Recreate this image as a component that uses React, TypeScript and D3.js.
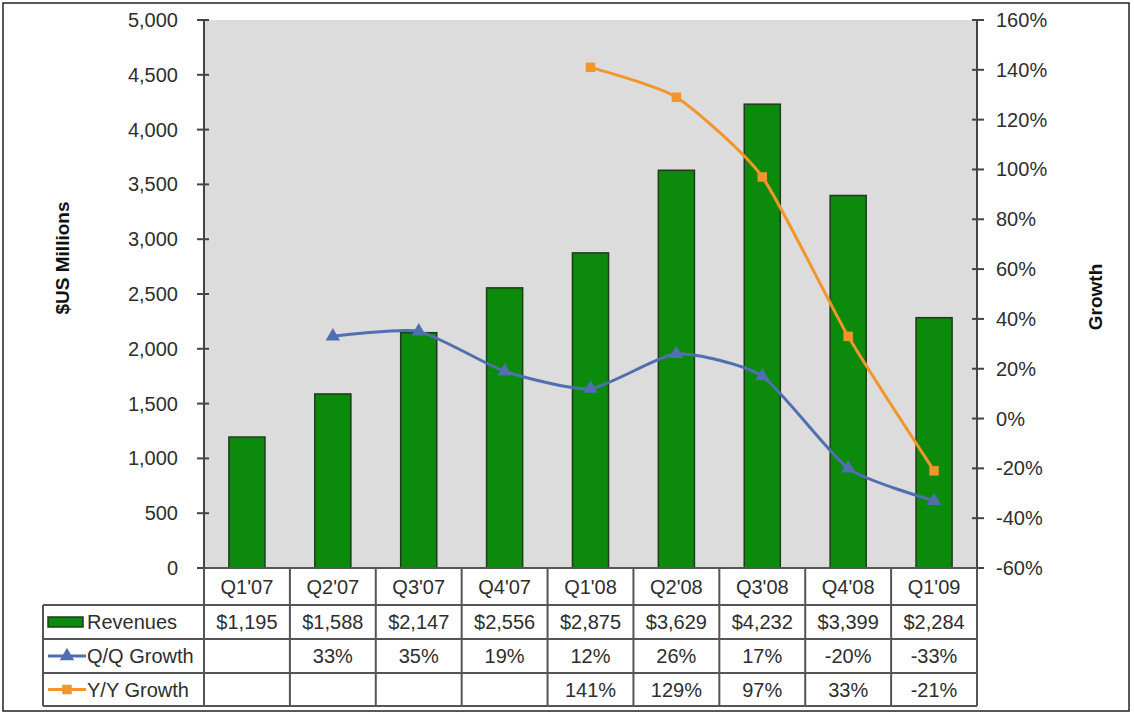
import React from "react";
import * as d3 from "d3";

const categories = ["Q1'07", "Q2'07", "Q3'07", "Q4'07", "Q1'08", "Q2'08", "Q3'08", "Q4'08", "Q1'09"];
const revenues = [1195, 1588, 2147, 2556, 2875, 3629, 4232, 3399, 2284];
const qqGrowth: (number | null)[] = [null, 33, 35, 19, 12, 26, 17, -20, -33];
const yyGrowth: (number | null)[] = [null, null, null, null, 141, 129, 97, 33, -21];
const leftTicks = [0, 500, 1000, 1500, 2000, 2500, 3000, 3500, 4000, 4500, 5000];
const rightTicks = [-60, -40, -20, 0, 20, 40, 60, 80, 100, 120, 140, 160];

const W = 1134;
const H = 717;
const plotL = 204;
const plotR = 977;
const plotT = 20;
const plotB = 568;
const tableL = 43;
const rowYs = [568, 605, 639, 673, 706];

const FONT = "'Liberation Sans', Arial, sans-serif";
const TEXT = "#2e2e2e";
const GRID = "#555";
const GREEN = "#0b8a0b";
const BLUE = "#4f6fae";
const ORANGE = "#f2952a";

export default function App() {
  const x = d3.scaleBand<string>().domain(categories).range([plotL, plotR]).padding(0);
  const bw = x.bandwidth();
  const barW = bw * 0.42;
  const cx = (c: string) => (x(c) as number) + bw / 2;
  const yL = d3.scaleLinear().domain([0, 5000]).range([plotB, plotT]);
  const yR = d3.scaleLinear().domain([-60, 160]).range([plotB, plotT]);
  const fmtL = d3.format(",");

  const qqPts = categories.map((c, i) => ({ c, v: qqGrowth[i] })).filter((d) => d.v !== null) as { c: string; v: number }[];
  const yyPts = categories.map((c, i) => ({ c, v: yyGrowth[i] })).filter((d) => d.v !== null) as { c: string; v: number }[];
  const line = d3
    .line<{ c: string; v: number }>()
    .x((d) => cx(d.c))
    .y((d) => yR(d.v))
    .curve(d3.curveCardinal.tension(0.4));

  const tri = d3.symbol().type(d3.symbolTriangle).size(90)();
  const sq = d3.symbol().type(d3.symbolSquare).size(90)();

  const rowMid = (r: number) => (rowYs[r] + rowYs[r + 1]) / 2;

  return (
    <svg
      width={W}
      height={H}
      style={{ position: "absolute", left: 0, top: 0, background: "#fff" }}
      fontFamily={FONT}
    >
      <rect x={3} y={3} width={1126} height={708} fill="#fff" stroke="#222" strokeWidth={1.5} />
      {/* plot background */}
      <rect x={plotL} y={plotT} width={plotR - plotL} height={plotB - plotT} fill="#dcdcdc" />

      {/* bars */}
      {categories.map((c, i) => (
        <rect
          key={c}
          x={cx(c) - barW / 2}
          y={yL(revenues[i])}
          width={barW}
          height={plotB - yL(revenues[i])}
          fill={GREEN}
          stroke="#1d3b1d"
          strokeWidth={1.5}
        />
      ))}

      {/* lines */}
      <path d={line(qqPts) || ""} fill="none" stroke={BLUE} strokeWidth={3} />
      {qqPts.map((d) => (
        <path key={"q" + d.c} d={tri || ""} transform={`translate(${cx(d.c)},${yR(d.v)})`} fill={BLUE} />
      ))}
      <path d={line(yyPts) || ""} fill="none" stroke={ORANGE} strokeWidth={3} />
      {yyPts.map((d) => (
        <path key={"y" + d.c} d={sq || ""} transform={`translate(${cx(d.c)},${yR(d.v)})`} fill={ORANGE} />
      ))}

      {/* left axis */}
      <line x1={plotL} x2={plotL} y1={plotT} y2={plotB} stroke="#444" strokeWidth={2} />
      {leftTicks.map((t) => (
        <g key={"l" + t}>
          <line x1={plotL - 7} x2={plotL + 5} y1={yL(t)} y2={yL(t)} stroke="#444" strokeWidth={2} />
          <text x={178} y={yL(t)} dy="0.35em" textAnchor="end" fontSize={20} fill={TEXT}>
            {fmtL(t)}
          </text>
        </g>
      ))}
      {/* right axis */}
      <line x1={plotR} x2={plotR} y1={plotT} y2={plotB} stroke="#444" strokeWidth={2} />
      {rightTicks.map((t) => (
        <g key={"r" + t}>
          <line x1={plotR - 5} x2={plotR + 7} y1={yR(t)} y2={yR(t)} stroke="#444" strokeWidth={2} />
          <text x={996} y={yR(t)} dy="0.35em" textAnchor="start" fontSize={20} fill={TEXT}>
            {t}%
          </text>
        </g>
      ))}

      {/* axis titles */}
      <text
        transform={`translate(69,258) rotate(-90)`}
        textAnchor="middle"
        fontSize={19}
        fontWeight="bold"
        fill="#111"
      >
        $US Millions
      </text>
      <text
        transform={`translate(1102,297) rotate(-90)`}
        textAnchor="middle"
        fontSize={19}
        fontWeight="bold"
        fill="#111"
      >
        Growth
      </text>

      {/* data table */}
      <g stroke={GRID} strokeWidth={2} fill="none">
        <line x1={plotL} x2={plotR} y1={rowYs[0]} y2={rowYs[0]} />
        {rowYs.slice(1).map((y, i) => (
          <line key={"h" + i} x1={tableL} x2={plotR} y1={y} y2={y} />
        ))}
        <line x1={tableL} x2={tableL} y1={rowYs[1]} y2={rowYs[4]} />
        {categories.map((c) => (
          <line key={"v" + c} x1={x(c) as number} x2={x(c) as number} y1={rowYs[0]} y2={rowYs[4]} />
        ))}
        <line x1={plotR} x2={plotR} y1={rowYs[0]} y2={rowYs[4]} />
      </g>

      {categories.map((c, i) => (
        <g key={"t" + c} fontSize={20} fill={TEXT} textAnchor="middle">
          <text x={cx(c)} y={rowMid(0)} dy="0.35em">
            {c}
          </text>
          <text x={cx(c)} y={rowMid(1)} dy="0.35em">
            {"$" + fmtL(revenues[i])}
          </text>
          {qqGrowth[i] !== null && (
            <text x={cx(c)} y={rowMid(2)} dy="0.35em">
              {qqGrowth[i] + "%"}
            </text>
          )}
          {yyGrowth[i] !== null && (
            <text x={cx(c)} y={rowMid(3)} dy="0.35em">
              {yyGrowth[i] + "%"}
            </text>
          )}
        </g>
      ))}

      {/* legend keys */}
      <rect x={48} y={rowMid(1) - 5} width={35} height={10} fill={GREEN} stroke="#1d3b1d" strokeWidth={1.5} />
      <line x1={48} x2={86} y1={rowMid(2)} y2={rowMid(2)} stroke={BLUE} strokeWidth={3} />
      <path d={tri || ""} transform={`translate(67,${rowMid(2)})`} fill={BLUE} />
      <line x1={48} x2={86} y1={rowMid(3)} y2={rowMid(3)} stroke={ORANGE} strokeWidth={3} />
      <path d={sq || ""} transform={`translate(67,${rowMid(3)})`} fill={ORANGE} />
      <g fontSize={20} fill={TEXT}>
        <text x={87} y={rowMid(1)} dy="0.35em">Revenues</text>
        <text x={87} y={rowMid(2)} dy="0.35em">Q/Q Growth</text>
        <text x={87} y={rowMid(3)} dy="0.35em">Y/Y Growth</text>
      </g>
    </svg>
  );
}
